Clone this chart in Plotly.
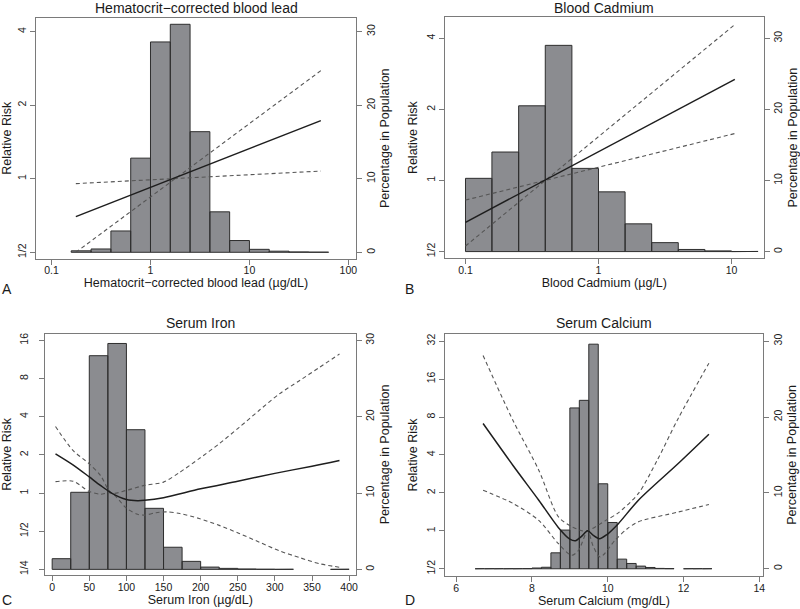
import plotly.graph_objects as go

# ---------------- Panel A: Hematocrit-corrected blood lead ----------------
a_bin_start = [0.158, 0.251, 0.398, 0.631, 1.0, 1.585, 2.512, 3.981, 6.31, 10.0, 15.85, 25.12, 39.81]
a_bin_end = [0.251, 0.398, 0.631, 1.0, 1.585, 2.512, 3.981, 6.31, 10.0, 15.85, 25.12, 39.81, 63.1]
a_pct = [0.2, 0.45, 2.9, 12.8, 28.6, 31.0, 16.4, 5.5, 1.6, 0.4, 0.15, 0.05, 0.02]
a_x = [0.176, 52.7]
a_rr = [0.70, 1.73]
a_ci1 = [0.50, 2.77]
a_ci2 = [0.955, 1.075]

# ---------------- Panel B: Blood Cadmium ----------------
b_bin_start = [0.1, 0.158, 0.251, 0.398, 0.631, 1.0, 1.585, 2.512, 3.981, 6.31, 10.0]
b_bin_end = [0.158, 0.251, 0.398, 0.631, 1.0, 1.585, 2.512, 3.981, 6.31, 10.0, 15.85]
b_pct = [10.3, 14.0, 20.5, 29.0, 11.7, 8.4, 3.9, 1.26, 0.3, 0.1, 0.02]
b_x = [0.1, 10.6]
b_rr = [0.665, 2.68]
b_ci1 = [0.528, 4.57]
b_ci2 = [0.826, 1.58]

# ---------------- Panel C: Serum Iron ----------------
c_bin_start = [0, 25, 50, 75, 100, 125, 150, 175, 200, 225, 250, 275, 300, 375]
c_bin_end = [25, 50, 75, 100, 125, 150, 175, 200, 225, 250, 275, 300, 325, 400]
c_pct = [1.4, 10.1, 28.0, 29.6, 18.3, 8.0, 2.9, 1.05, 0.3, 0.13, 0.05, 0.02, 0.01, 0.01]
c_x = [4.5, 28, 50, 65, 80, 100, 115, 124.5, 150, 200, 250, 300, 350, 387]
c_rr = [2.04, 1.67, 1.34, 1.15, 1.0, 0.89, 0.87, 0.876, 0.92, 1.08, 1.24, 1.43, 1.63, 1.81]
c_up_x = [4.5, 28, 50, 65, 80, 100, 124.5, 150, 172, 198, 225, 252, 279, 306, 333, 360, 387]
c_up = [3.35, 2.17, 1.7, 1.38, 1.0, 1.05, 1.15, 1.22, 1.46, 1.87, 2.45, 3.3, 4.5, 6.06, 7.7, 9.8, 12.5]
c_lo_x = [4.5, 28, 50, 65, 80, 100, 115, 124.5, 140, 154, 172, 198, 225, 252, 279, 306, 333, 360, 387]
c_lo = [1.23, 1.24, 1.03, 0.98, 1.0, 0.76, 0.68, 0.67, 0.70, 0.71, 0.69, 0.63, 0.556, 0.48, 0.41, 0.35, 0.31, 0.277, 0.26]

# ---------------- Panel D: Serum Calcium ----------------
d_bin_start = [6.5, 6.75, 7.0, 7.25, 7.5, 7.75, 8.0, 8.25, 8.5, 8.75, 9.0, 9.25, 9.5, 9.75,
               10.0, 10.25, 10.5, 10.75, 11.0, 11.25, 11.5, 12.0, 12.25, 12.5]
d_bin_end = [6.75, 7.0, 7.25, 7.5, 7.75, 8.0, 8.25, 8.5, 8.75, 9.0, 9.25, 9.5, 9.75, 10.0,
             10.25, 10.5, 10.75, 11.0, 11.25, 11.5, 11.75, 12.25, 12.5, 12.75]
d_pct = [0.01, 0.01, 0.01, 0.01, 0.01, 0.02, 0.1, 0.2, 2.1, 5.1, 21.2, 22.2, 29.6, 11.2,
         6.1, 1.27, 0.7, 0.35, 0.17, 0.05, 0.02, 0.01, 0.01, 0.01]
d_x = [6.71, 7.5, 8.18, 8.7, 9.0, 9.15, 9.3, 9.47, 9.62, 9.78, 9.97, 10.28, 10.81, 11.86, 12.67]
d_rr = [7.1, 3.3, 1.75, 1.06, 0.86, 0.835, 0.9, 1.0, 0.92, 0.865, 0.93, 1.14, 1.75, 3.42, 5.84]
d_up_x = [6.71, 7.5, 8.18, 8.7, 9.05, 9.32, 9.47, 9.93, 10.28, 10.81, 11.3, 11.86, 12.67]
d_up = [24.6, 7.5, 3.03, 1.29, 1.08, 1.0, 1.0, 1.2, 1.39, 1.98, 3.6, 7.8, 21.4]
d_lo_x = [6.71, 7.5, 8.18, 8.7, 9.05, 9.23, 9.47, 9.62, 9.8, 10.19, 10.5, 10.81, 11.86, 12.67]
d_lo = [2.1, 1.65, 1.21, 0.79, 0.64, 0.70, 1.0, 0.75, 0.62, 0.84, 1.03, 1.18, 1.41, 1.62]

FONT = "Liberation Sans, Arial, sans-serif"
TXT = "#1a1a1a"
AXC = "#7a7a7a"
BAR_FILL = "#8b8c90"
BAR_LINE = "#2e2e2e"
SOLID = "#1e1e1e"
DASH = "#555555"


def bar_poly(starts, ends, heights):
    xs, ys = [], []
    for s, e, h in zip(starts, ends, heights):
        xs += [s, s, e, e, s, None]
        ys += [0, h, h, 0, 0, None]
    return xs, ys


panels = [
    dict(title="Hematocrit\u2212corrected blood lead",
         xtitle="Hematocrit\u2212corrected blood lead (\u00b5g/dL)",
         letter="A", xtype="log",
         bars=(a_bin_start, a_bin_end, a_pct),
         solid=(a_x, a_rr), dashes=[(a_x, a_ci1), (a_x, a_ci2)], shape="linear",
         xdom=[36, 357], ydom=[17, 258], title_y=7, letter_pos=(0, 288), left_pad=0,
         xrange=[-1.158, 2.078], xticks=[0.1, 1, 10, 100], xticktext=["0.1", "1", "10", "100"],
         yl=[-1.0855, 2.186], ylticks=[0.5, 1, 2, 4], yltext=["1/2", "1", "2", "4"],
         per_doubling=10, lowest=-1),
    dict(title="Blood Cadmium", xtitle="Blood Cadmium (\u00b5g/L)", letter="B", xtype="log",
         bars=(b_bin_start, b_bin_end, b_pct),
         solid=(b_x, b_rr), dashes=[(b_x, b_ci1), (b_x, b_ci2)], shape="linear",
         xdom=[446, 765.7], ydom=[16, 257.7], title_y=7, letter_pos=(404, 288), left_pad=0,
         xrange=[-1.155, 1.243], xticks=[0.1, 1, 10], xticktext=["0.1", "1", "10"],
         yl=[-1.094, 2.299], ylticks=[0.5, 1, 2, 4], yltext=["1/2", "1", "2", "4"],
         per_doubling=10, lowest=-1),
    dict(title="Serum Iron", xtitle="Serum Iron (\u00b5g/dL)", letter="C", xtype="linear",
         bars=(c_bin_start, c_bin_end, c_pct),
         solid=(c_x, c_rr), dashes=[(c_up_x, c_up), (c_lo_x, c_lo)], shape="spline",
         xdom=[45, 356.7], ydom=[333.3, 575], title_y=323, letter_pos=(0, 600), left_pad=7,
         xrange=[-9.8, 409.0], xticks=list(range(0, 401, 50)), xticktext=[str(v) for v in range(0, 401, 50)],
         yl=[-2.149, 4.175], ylticks=[0.25, 0.5, 1, 2, 4, 8, 16],
         yltext=["1/4", "1/2", "1", "2", "4", "8", "16"],
         per_doubling=5, lowest=-2),
    dict(title="Serum Calcium", xtitle="Serum Calcium (mg/dL)", letter="D", xtype="linear",
         bars=(d_bin_start, d_bin_end, d_pct),
         solid=(d_x, d_rr), dashes=[(d_up_x, d_up), (d_lo_x, d_lo)], shape="spline",
         xdom=[446, 765], ydom=[333.3, 576], title_y=323, letter_pos=(404, 600), left_pad=0,
         xrange=[5.702, 14.1], xticks=[6, 8, 10, 12, 14], xticktext=["6", "8", "10", "12", "14"],
         yl=[-1.192, 5.195], ylticks=[0.5, 1, 2, 4, 8, 16, 32],
         yltext=["1/2", "1", "2", "4", "8", "16", "32"],
         per_doubling=5, lowest=-1),
]

W, H = 800, 609
fig = go.Figure()
LOG2 = 0.30103

annotations = []
for i, p in enumerate(panels):
    xa = "x" if i == 0 else f"x{i + 1}"
    yb = "y" if i == 0 else f"y{2 * i + 1}"
    yo = f"y{2 * i + 2}"

    bx, by = bar_poly(*p["bars"])
    fig.add_trace(go.Scatter(x=bx, y=by, mode="lines", fill="toself", fillcolor=BAR_FILL,
                             line=dict(color=BAR_LINE, width=1), xaxis=xa, yaxis=yb,
                             showlegend=False, hoverinfo="skip"))
    lshape = dict(shape=p["shape"])
    if p["shape"] == "spline":
        lshape["smoothing"] = 0.8
    for dx, dy in p["dashes"]:
        fig.add_trace(go.Scatter(x=dx, y=dy, mode="lines",
                                 line=dict(color=DASH, width=1.1, dash="4px,3px", **lshape),
                                 xaxis=xa, yaxis=yo, showlegend=False))
    sx, sy = p["solid"]
    fig.add_trace(go.Scatter(x=sx, y=sy, mode="lines",
                             line=dict(color=SOLID, width=1.5, **lshape),
                             xaxis=xa, yaxis=yo, showlegend=False))

    xd = [p["xdom"][0] / W, p["xdom"][1] / W]
    yd = [1 - p["ydom"][1] / H, 1 - p["ydom"][0] / H]
    common = dict(showgrid=False, zeroline=False, ticks="outside", ticklen=5,
                  tickcolor=AXC, tickwidth=1,
                  tickfont=dict(family=FONT, size=10.5, color=TXT))
    xkey = "xaxis" if i == 0 else f"xaxis{i + 1}"
    ybkey = "yaxis" if i == 0 else f"yaxis{2 * i + 1}"
    yokey = f"yaxis{2 * i + 2}"

    fig.layout[xkey] = dict(domain=xd, anchor=yb, type=p["xtype"], range=p["xrange"],
                            tickvals=p["xticks"], ticktext=p["xticktext"],
                            showline=True, mirror=True, linecolor=AXC, linewidth=1,
                            ticklabelstandoff=-3,
                            title=dict(text=p["xtitle"], standoff=3,
                                       font=dict(family=FONT, size=12.5, color=TXT)),
                            **common)
    yl = p["yl"]
    pr = [(yl[0] - p["lowest"]) * p["per_doubling"], (yl[1] - p["lowest"]) * p["per_doubling"]]
    fig.layout[ybkey] = dict(domain=yd, anchor=xa, side="right", range=pr,
                             tickvals=[0, 10, 20, 30], tickangle=-90,
                             showline=True, mirror=True, linecolor=AXC, linewidth=1,
                             title=dict(text="Percentage in Population", standoff=4,
                                        font=dict(family=FONT, size=12.5, color=TXT)),
                             **common)
    fig.layout[yokey] = dict(domain=yd, anchor=xa, overlaying=yb, side="left", type="log",
                             range=[yl[0] * LOG2, yl[1] * LOG2],
                             tickvals=p["ylticks"], ticktext=p["yltext"], tickangle=-90,
                             showline=False, ticklabelstandoff=p["left_pad"],
                             title=dict(text="Relative Risk", standoff=4,
                                        font=dict(family=FONT, size=12.5, color=TXT)),
                             **common)

    annotations.append(dict(text=p["title"], xref="paper", yref="paper",
                            x=(xd[0] + xd[1]) / 2, y=1 - p["title_y"] / H,
                            xanchor="center", yanchor="middle", showarrow=False,
                            font=dict(family=FONT, size=14, color=TXT)))
    annotations.append(dict(text=p["letter"], xref="paper", yref="paper",
                            x=p["letter_pos"][0] / W, y=1 - p["letter_pos"][1] / H,
                            xanchor="left", yanchor="middle", showarrow=False,
                            font=dict(family=FONT, size=14, color=TXT)))

fig.update_layout(width=W, height=H, margin=dict(l=0, r=0, t=0, b=0),
                  paper_bgcolor="white", plot_bgcolor="white",
                  font=dict(family=FONT, color=TXT), annotations=annotations,
                  showlegend=False)

fig.write_html("out.html", config={"displayModeBar": False},
               post_script="document.body.style.margin='0px';document.body.style.overflow='hidden';")
